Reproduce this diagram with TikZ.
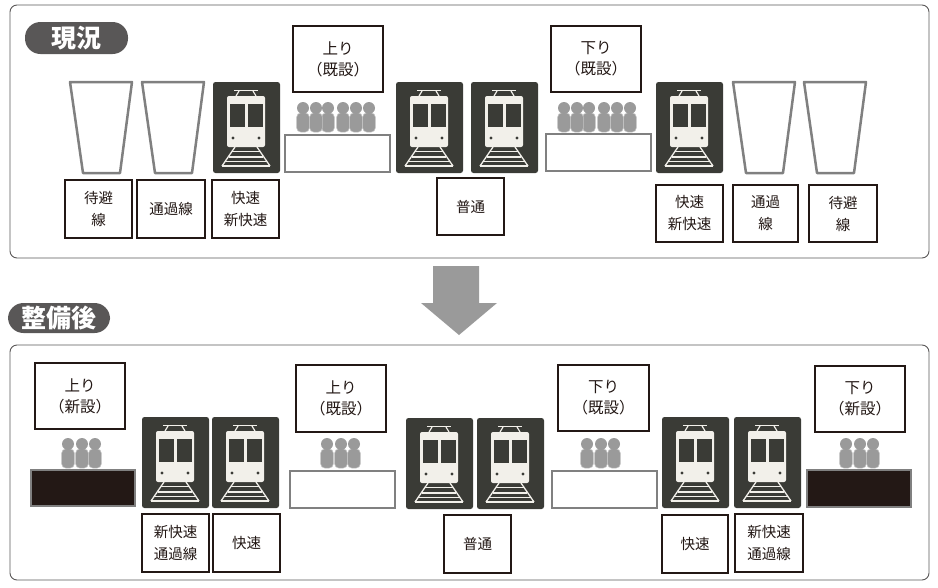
\documentclass[tikz,border=0pt]{standalone}
\usepackage{fontspec}
\setmainfont{Noto Sans CJK JP}
\definecolor{traindark}{HTML}{3A3B36}
\definecolor{inkdark}{HTML}{231815}
\definecolor{pillgray}{HTML}{595757}
\definecolor{pfgray}{HTML}{808080}
\definecolor{persongray}{HTML}{9A9A9A}
\definecolor{personedge}{HTML}{C4C4C4}
\definecolor{tracklight}{HTML}{F2F0EA}
\newcommand{\rbox}[6]{\node[#1, minimum width={(#4-#2)*1pt}, minimum height={(#5-#3)*1pt}] at ({(#2+#4)/2},{(#3+#5)/2}) {#6};}
\newcommand{\trainicon}[2]{%
\begin{scope}[shift={(#1,#2)}]
\fill[traindark,rounded corners=2.5] (0,0) rectangle (67,91);
\draw[tracklight,line width=1.8] (21,8.5) -- (45,8.5);
\draw[tracklight,line width=1.2] (26,9) -- (23,14) (40,9) -- (43,14);
\fill[tracklight,rounded corners=2] (14,14) rectangle (52,65);
\fill[traindark] (16.5,22) rectangle (32,45);
\fill[traindark] (34.5,22) rectangle (49.5,45);
\fill[traindark] (20,56) circle (1.6) (46,56) circle (1.6);
\draw[tracklight,line width=1.3] (22,65) -- (9,84) (44,65) -- (57,84);
\draw[tracklight,line width=1.3] (19,69.5) -- (47,69.5) (16,75) -- (50,75) (12,79.5) -- (54,79.5) (9,84) -- (57,84);
\end{scope}}
\newcommand{\person}[2]{%
\draw[personedge,line width=0.5,fill=persongray,rounded corners=4] (#1-6.3,#2+5) rectangle (#1+6.3,#2+24);
\fill[persongray] (#1,#2) circle (6);}
\newcommand{\crowdthree}[2]{\person{#1+27}{#2}\person{#1+14}{#2}\person{#1}{#2}}
\newcommand{\crowdsix}[2]{\person{#1+66}{#2}\person{#1+53}{#2}\person{#1+40}{#2}\person{#1+25}{#2}\person{#1+13}{#2}\person{#1}{#2}}
\newcommand{\glassicon}[2]{\draw[pfgray,line width=2.5,line join=round] (#1,#2) -- (#1+62,#2) -- (#1+50,#2+91) -- (#1+13,#2+91) -- cycle;}
\tikzset{
  panel/.style={draw=pillgray,line width=0.9,rounded corners=7},
  lbl/.style={draw=inkdark,line width=2.6,fill=white,align=center,font=\fontsize{14.5}{22}\selectfont,text=inkdark,inner sep=0pt},
  dirbox/.style={lbl,font=\fontsize{15.5}{21}\selectfont},
  pillbox/.style={fill=pillgray,text=white,rounded corners=15.5,font=\fontsize{25}{25}\selectfont\bfseries,inner sep=0pt},
  pfwhite/.style={draw=pfgray,line width=2.5,fill=white},
  pfblack/.style={draw=pfgray,line width=2.5,fill=inkdark},
}
\begin{document}
\begin{tikzpicture}[x=1pt,y=-1pt]
\useasboundingbox (0,0) rectangle (938,587);
\draw[panel] (10,5) rectangle (929,258);
\draw[panel] (10,345) rectangle (929,580);
\rbox{pillbox}{25}{22}{128}{54}{現況}
\rbox{pillbox}{8}{303}{110}{333}{整備後}
% arrow
\fill[persongray] (433,266) -- (479,266) -- (479,303) -- (497,303) -- (459,335) -- (421,303) -- (433,303) -- cycle;
% current
\glassicon{70}{82}\glassicon{142}{82}
\glassicon{733}{82}\glassicon{804}{82}
\trainicon{213}{82}\trainicon{396}{82}\trainicon{471}{82}\trainicon{656}{82}
\crowdsix{303}{108}\crowdsix{564}{108}
\draw[pfwhite] (285,135) rectangle (390,172);
\draw[pfwhite] (546,134) rectangle (651,171);
\rbox{dirbox}{293}{26}{383}{92}{上り\\（既設）}
\rbox{dirbox}{551}{26}{641}{92}{下り\\（既設）}
\rbox{lbl}{65}{180}{132}{238}{待避\\線}
\rbox{lbl}{137}{180}{205}{238}{通過線}
\rbox{lbl}{212}{180}{279}{238}{快速\\新快速}
\rbox{lbl}{437}{178}{504}{235}{普通}
\rbox{lbl}{656}{185}{723}{242}{快速\\新快速}
\rbox{lbl}{733}{185}{798}{242}{通過\\線}
\rbox{lbl}{809}{185}{877}{242}{待避\\線}
% after
\trainicon{142}{417}\trainicon{212}{417}\trainicon{406}{418}\trainicon{477}{418}\trainicon{662}{417}\trainicon{734}{417}
\crowdthree{68}{444}\crowdthree{327}{444}\crowdthree{587}{444}\crowdthree{846}{444}
\draw[pfblack] (31,470) rectangle (135,506);
\draw[pfwhite] (290,471) rectangle (395,508);
\draw[pfwhite] (552,471) rectangle (657,508);
\draw[pfblack] (807,470) rectangle (911,507);
\rbox{dirbox}{35}{363}{125}{429}{上り\\（新設）}
\rbox{dirbox}{296}{365}{386}{432}{上り\\（既設）}
\rbox{dirbox}{558}{365}{649}{431}{下り\\（既設）}
\rbox{dirbox}{815}{366}{905}{432}{下り\\（新設）}
\rbox{lbl}{142}{514}{209}{572}{新快速\\通過線}
\rbox{lbl}{213}{514}{280}{572}{快速}
\rbox{lbl}{444}{515}{511}{573}{普通}
\rbox{lbl}{662}{515}{728}{573}{快速}
\rbox{lbl}{735}{514}{803}{572}{新快速\\通過線}
\end{tikzpicture}
\end{document}
